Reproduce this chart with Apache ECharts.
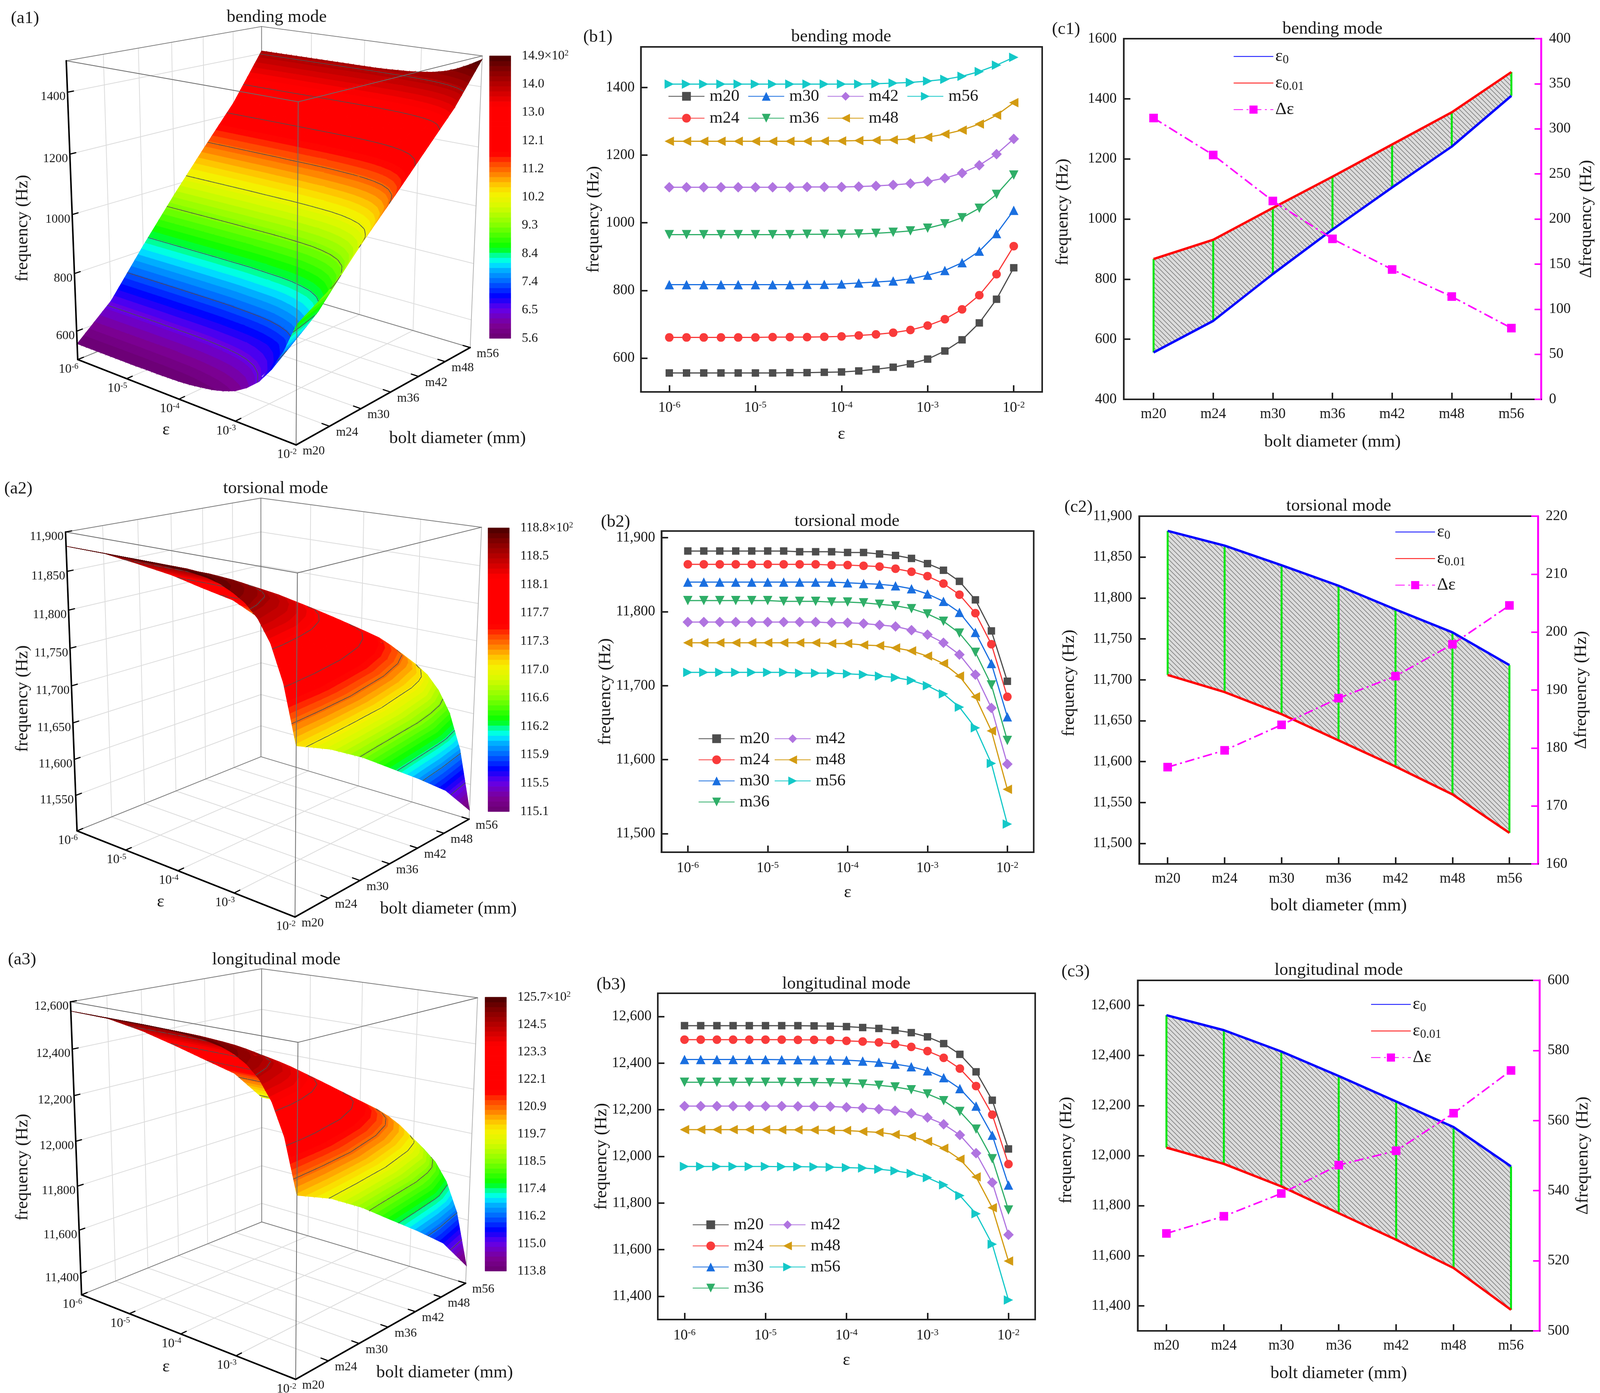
<!DOCTYPE html>
<html><head><meta charset="utf-8">
<style>html,body{margin:0;padding:0;background:#fff;overflow:hidden}#c{height:3565px}</style>
<script src="https://cdn.jsdelivr.net/npm/echarts@6/dist/echarts.min.js"></script>
</head><body><div id="c"></div>
<script>
// ---------- data ----------
const BOLTS=['m20','m24','m30','m36','m42','m48','m56'];
const EPS_EXP=[-6,-5.8,-5.6,-5.4,-5.2,-5,-4.8,-4.6,-4.4,-4.2,-4,-3.8,-3.6,-3.4,-3.2,-3,-2.8,-2.6,-2.4,-2.2,-2];
const EPS_TICKS=[-6,-5,-4,-3,-2];

const bendM20=[556,556,556,556,556,556,556,557,557,558,559,562,567,573,583,597,621,654,704,774,867];
const bendM24=[661,661,661,661,661,661,662,662,662,663,664,667,670,675,683,696,715,744,786,848,931];
const bendM30=[817,817,817,817,817,817,817,817,818,818,819,822,825,828,834,845,859,882,916,968,1037];
const bendM36=[965,965,965,965,965,965,965,965,966,966,966,967,969,972,976,984,997,1015,1043,1084,1141];
const bendM42=[1105,1105,1105,1105,1105,1105,1105,1105,1106,1106,1106,1107,1109,1112,1116,1122,1132,1147,1170,1203,1248];
const bendM48=[1241,1241,1241,1241,1241,1241,1241,1241,1241,1242,1242,1243,1244,1245,1248,1253,1262,1274,1292,1318,1355];
const bendM56=[1410,1410,1410,1410,1410,1410,1410,1410,1410,1410,1410,1410,1411,1413,1415,1419,1424,1433,1447,1466,1489];

const torsM20=[11882,11882,11882,11882,11882,11882,11882,11881,11881,11881,11880,11880,11878,11876,11872,11865,11856,11841,11816,11774,11706];
const torsM24=[11864,11864,11864,11864,11864,11864,11864,11864,11864,11863,11863,11862,11861,11858,11854,11848,11838,11823,11798,11756,11685];
const torsM30=[11840,11840,11840,11840,11840,11840,11840,11840,11840,11840,11839,11838,11837,11835,11831,11824,11814,11799,11772,11730,11658];
const torsM36=[11815,11815,11815,11815,11815,11815,11814,11814,11814,11813,11813,11812,11810,11808,11804,11797,11787,11771,11745,11701,11626];
const torsM42=[11786,11786,11786,11786,11786,11786,11786,11786,11786,11785,11785,11784,11782,11780,11775,11769,11758,11742,11715,11670,11594];
const torsM48=[11758,11758,11758,11758,11758,11758,11758,11758,11758,11757,11757,11755,11754,11751,11747,11740,11730,11713,11685,11639,11560];
const torsM56=[11718,11718,11718,11718,11718,11718,11718,11717,11717,11717,11716,11715,11713,11711,11707,11700,11689,11671,11643,11595,11513];

const longM20=[12561,12561,12561,12561,12561,12561,12561,12561,12560,12559,12557,12553,12549,12541,12531,12513,12484,12438,12363,12241,12032];
const longM24=[12501,12501,12501,12501,12501,12501,12501,12500,12500,12499,12496,12493,12489,12482,12470,12452,12423,12377,12302,12179,11967];
const longM30=[12416,12416,12416,12416,12416,12416,12415,12415,12414,12414,12413,12409,12404,12396,12385,12367,12338,12291,12216,12091,11877];
const longM36=[12318,12318,12318,12318,12318,12318,12318,12317,12317,12316,12314,12310,12305,12298,12286,12268,12239,12193,12117,11990,11770];
const longM42=[12216,12216,12216,12216,12216,12216,12216,12215,12215,12214,12211,12208,12203,12196,12185,12167,12138,12092,12014,11888,11664];
const longM48=[12115,12115,12115,12115,12115,12115,12114,12114,12113,12112,12111,12107,12103,12094,12085,12064,12035,11988,11912,11780,11551];
const longM56=[11957,11957,11957,11957,11957,11957,11956,11956,11955,11954,11952,11950,11945,11938,11927,11909,11878,11832,11754,11623,11384];

const bendE0=[556,661,817,965,1105,1241,1410];
const bendE001=[867,931,1037,1141,1248,1355,1489];
const bendDelta=[312,271,220,178,144,114,79];
const torsE0=[11882,11864,11840,11815,11786,11758,11718];
const torsE001=[11706,11685,11658,11626,11594,11560,11513];
const torsDelta=[176.7,179.6,184,188.6,192.4,197.9,204.6];
const longE0=[12561,12501,12416,12318,12216,12114,11957];
const longE001=[12032,11967,11877,11770,11664,11551,11384];
const longDelta=[527.8,532.7,539.2,547.3,551.4,562.1,574.3];

const bendBar=['14.9','14.0','13.0','12.1','11.2','10.2','9.3','8.4','7.4','6.5','5.6'];
const torsBar=['118.8','118.5','118.1','117.7','117.3','117.0','116.6','116.2','115.9','115.5','115.1'];
const longBar=['125.7','124.5','123.3','122.1','120.9','119.7','118.5','117.4','116.2','115.0','113.8'];

const bendTicks=[600,800,1000,1200,1400];
const torsTicks=[11550,11600,11650,11700,11750,11800,11850,11900];
const longTicks=[11400,11600,11800,12000,12200,12400,12600];
const torsTicks2=[11500,11600,11700,11800,11900];
const torsTicks3=[11500,11550,11600,11650,11700,11750,11800,11850,11900];

const bending=[bendM20,bendM24,bendM30,bendM36,bendM42,bendM48,bendM56];
const torsional=[torsM20,torsM24,torsM30,torsM36,torsM42,torsM48,torsM56];
const longitudinal=[longM20,longM24,longM30,longM36,longM42,longM48,longM56];

// ---------- layout: the window may be narrower than the reference ----------
const SX=Math.min(1,(window.innerWidth||4354)/4354), X=v=>v*SX, FS=v=>Math.round(v*.97);
const CW=Math.round(4354*SX);
document.getElementById('c').style.width=CW+'px';

// ---------- styles ----------
const F='"Liberation Serif","Times New Roman",serif', INK='#1a1a1a';
const SER_COLOR=['#4d4d4d','#f93a3a','#1a6fe0','#2fae68','#b074e0','#d39b12','#14c8c8'];
const SER_SYM=['rect','circle','triangle','triangle','diamond','triangle','triangle'];
const SER_ROT=[0,0,0,180,0,90,-90];
const SER_SIZE=[19,22,24,24,27,24,24];
const fmtPlain=v=>String(v), fmtComma=v=>String(v).replace(/\B(?=(\d{3})+$)/g,',');
const STOPS=[[0,[106,0,112]],[.05,[125,0,150]],[.105,[100,0,235]],[.15,[0,0,255]],[.2,[0,100,255]],[.25,[0,190,255]],[.27,[0,255,255]],[.3,[0,255,130]],[.32,[0,255,0]],[.4,[130,255,0]],[.467,[215,250,0]],[.515,[248,240,0]],[.55,[255,190,0]],[.585,[255,125,0]],[.62,[255,70,0]],[.655,[255,0,0]],[.825,[255,0,0]],[.885,[195,0,0]],[.947,[135,0,0]],[1,[72,0,0]]];
const NB=56;
function cmap(t){
  for(let i=1;i<STOPS.length;i++) if(t<=STOPS[i][0]){
    const a=STOPS[i-1],b=STOPS[i],k=(t-a[0])/(b[0]-a[0]);
    return 'rgb('+a[1].map((c,j)=>Math.round(c+(b[1][j]-c)*k)).join(',')+')';
  }
  return 'rgb(72,0,0)';
}
function fitCamera(c){ // least-squares projective camera from the box corners
  const N=11,A=[...Array(N)].map(()=>Array(N+1).fill(0));
  function add(r,b){for(let i=0;i<N;i++){for(let j=0;j<N;j++)A[i][j]+=r[i]*r[j];A[i][N]+=r[i]*b;}}
  c.forEach(([u,v,w,x,y])=>{
    add([u,v,w,1,0,0,0,0,-x*u,-x*v,-x*w],x);
    add([0,0,0,0,u,v,w,1,-y*u,-y*v,-y*w],y);
  });
  for(let i=0;i<N;i++){
    let p=i;for(let r=i+1;r<N;r++)if(Math.abs(A[r][i])>Math.abs(A[p][i]))p=r;
    [A[i],A[p]]=[A[p],A[i]];
    for(let r=0;r<N;r++)if(r!==i){const k=A[r][i]/A[i][i];for(let j=i;j<=N;j++)A[r][j]-=k*A[i][j];}
  }
  const p=A.map((r,i)=>r[N]/r[i]);
  return (u,v,w)=>{const d=p[8]*u+p[9]*v+p[10]*w+1;return [(p[0]*u+p[1]*v+p[2]*w+p[3])/d,(p[4]*u+p[5]*v+p[6]*w+p[7])/d];};
}
function clipF(poly,val,keepAbove){ // clip [x,y,f] polygon against f>=val or f<=val
  const out=[];
  for(let i=0;i<poly.length;i++){
    const a=poly[i],b=poly[(i+1)%poly.length];
    const ia=keepAbove?a[2]>=val:a[2]<=val, ib=keepAbove?b[2]>=val:b[2]<=val;
    if(ia)out.push(a);
    if(ia!==ib){const k=(val-a[2])/(b[2]-a[2]);out.push([a[0]+(b[0]-a[0])*k,a[1]+(b[1]-a[1])*k,val]);}
  }
  return out;
}
const BOX=[
 {corners:[[0,0,0,212,920],[1,0,0,805,1139],[1,1,0,1280,889],[0,1,0,712,731],[0,0,1,180,155],[1,0,1,812,261],[1,1,1,1312,143],[0,1,1,712,68]],
  z:[500,1500],bar:{x:1332,y0:143,y1:866},fT:[62,584],eT:[452,1100],bT:[1245,1122],fmt:fmtPlain},
 {corners:[[0,0,0,210,2126],[1,0,0,802,2347],[1,1,0,1277,2096],[0,1,0,710,1937],[0,0,1,178,1361],[1,0,1,810,1467],[1,1,1,1310,1349],[0,1,1,710,1275]],
  z:[11500,11900],bar:{x:1328,y0:1351,y1:2077},fT:[62,1788],eT:[437,2308],bT:[1220,2326],fmt:fmtComma},
 {corners:[[0,0,0,222,3314],[1,0,0,805,3530],[1,1,0,1267,3284],[0,1,0,712,3127],[0,0,1,192,2564],[1,0,1,810,2667],[1,1,1,1300,2554],[0,1,1,712,2479]],
  z:[11300,12600],bar:{x:1320,y0:2552,y1:3253},fT:[62,2987],eT:[452,3498],bT:[1210,3513],fmt:fmtComma}
];
const A_SETS=[{table:bending,bar:bendBar,ticks:bendTicks},{table:torsional,bar:torsBar,ticks:torsTicks},{table:longitudinal,bar:longBar,ticks:longTicks}];
const powRich3={b:{fontFamily:F,fontSize:FS(34),fill:INK,color:INK},s:{fontFamily:F,fontSize:FS(22),fill:INK,color:INK,padding:[0,0,14,0]}};

const grid=[],xAxis=[],yAxis=[],series=[],legend=[],title=[];
function addTitle(text,x,y,size){title.push({text,left:X(x),top:y,textAlign:'center',textVerticalAlign:'middle',padding:0,textStyle:{fontFamily:F,fontWeight:'normal',fontSize:FS(size||46),color:INK}});}
function txt(text,x,y,size,align,extra){return Object.assign({type:'text',x,y,silent:true,style:Object.assign({text,fontFamily:F,fontSize:FS(size),fill:INK,align:align||'center',verticalAlign:'middle'},extra&&extra.style)},extra&&extra.el);}
function seg(a,b,stroke,w){return {type:'line',silent:true,shape:{x1:a[0],y1:a[1],x2:b[0],y2:b[1]},style:{stroke,lineWidth:w,lineCap:'round'}};}

// ---------- a panels: surfaces ----------
BOX.forEach((bx,pi)=>{
  const set=A_SETS[pi],P=fitCamera(bx.corners.map(c=>[c[0],c[1],c[2],X(c[3]),c[4]])),table=set.table;
  grid.push({left:0,top:0,width:1000,height:1000,show:false});
  xAxis.push({type:'value',gridIndex:pi,min:0,max:20,show:false});
  yAxis.push({type:'value',gridIndex:pi,min:bx.z[0],max:bx.z[1],show:false});
  const fMax=parseFloat(set.bar[0])*100,fMin=parseFloat(set.bar[set.bar.length-1])*100,fR=fMax-fMin;
  const levels=set.bar.slice(1,-1).map(s=>parseFloat(s)*100);
  const mapper=(api,cs)=>(xi,b,f)=>{const c=api.coord([xi,f]);return P((c[0]-cs.x)/cs.width,b/6,1-(c[1]-cs.y)/cs.height);};
  // back of the box
  series.push({type:'custom',coordinateSystem:'cartesian2d',xAxisIndex:pi,yAxisIndex:pi,z:1,silent:true,clip:false,data:[[0]],
    renderItem(params,api){
      const m=mapper(api,params.coordSys),z0=bx.z[0],z1=bx.z[1],ch=[],G='#dcdcdc',E='#7d7d7d';
      BOLTS.forEach((b,i)=>{ if(i>0&&i<6){ ch.push(seg(m(0,i,z0),m(0,i,z1),G,2)); ch.push(seg(m(0,i,z0),m(20,i,z0),G,2)); } });
      EPS_TICKS.forEach((e,k)=>{ if(k>0&&k<4){ ch.push(seg(m(k*5,6,z0),m(k*5,6,z1),G,2)); ch.push(seg(m(k*5,0,z0),m(k*5,6,z0),G,2)); } });
      set.ticks.forEach(t=>{ if(t<z1){ ch.push(seg(m(0,0,t),m(0,6,t),G,2)); ch.push(seg(m(0,6,t),m(20,6,t),G,2)); } });
      ch.push(seg(m(0,6,z0),m(0,6,z1),E,2),seg(m(0,6,z0),m(0,0,z0),E,2),seg(m(0,6,z0),m(20,6,z0),E,2),seg(m(0,0,z1),m(0,6,z1),E,2),seg(m(0,6,z1),m(20,6,z1),E,2),seg(m(20,6,z0),m(20,6,z1),'#b5b5b5',2));
      return {type:'group',children:ch};
    }});
  // surface: cells far-to-near, every cell filled band by band
  const cells=[];
  for(let b=5;b>=0;b--)for(let e=0;e<20;e++)cells.push([e,b]);
  const SU=2,SV=4;
  series.push({type:'custom',coordinateSystem:'cartesian2d',xAxisIndex:pi,yAxisIndex:pi,z:2,silent:true,clip:false,data:cells,
    renderItem(params,api){
      const m=mapper(api,params.coordSys),e=api.value(0),b=api.value(1),ch=[],lines=[];
      const f00=table[b][e],f10=table[b][e+1],f01=table[b+1][e],f11=table[b+1][e+1];
      const V=(su,sv)=>{const a=su/SU,c=sv/SV,f=(f00*(1-a)+f10*a)*(1-c)+(f01*(1-a)+f11*a)*c,p=m(e+a,b+c,f);return [p[0],p[1],f];};
      const tri=t=>{
        const fs=t.map(p=>p[2]),lo=Math.min(...fs),hi=Math.max(...fs);
        const b0=Math.max(0,Math.floor((lo-fMin)/fR*NB)),b1=Math.min(NB-1,Math.floor((hi-fMin)/fR*NB));
        for(let k=b0;k<=b1;k++){
          let poly=t;
          if(k>0)poly=clipF(poly,fMin+fR*k/NB,true);
          if(k<NB-1&&poly.length)poly=clipF(poly,fMin+fR*(k+1)/NB,false);
          if(poly.length>=3){const col=cmap((k+.5)/NB);ch.push({type:'polygon',silent:true,shape:{points:poly.map(q=>[q[0],q[1]])},style:{fill:col,stroke:col,lineWidth:1.2}});}
        }
        levels.forEach(L=>{ if(L<=lo||L>=hi)return;
          const hit=[];
          for(let i=0;i<3;i++){const p=t[i],q=t[(i+1)%3];
            if((p[2]<L)!==(q[2]<L)){const k=(L-p[2])/(q[2]-p[2]);hit.push([p[0]+(q[0]-p[0])*k,p[1]+(q[1]-p[1])*k]);}}
          if(hit.length===2)lines.push(seg(hit[0],hit[1],'#4f4f4f',1.6));
        });
      };
      for(let sv=SV-1;sv>=0;sv--)for(let su=0;su<SU;su++){
        const a=V(su,sv),c=V(su+1,sv),d=V(su+1,sv+1),g=V(su,sv+1);
        tri([g,d,a]);tri([d,c,a]);
      }
      return {type:'group',children:ch.concat(lines)};
    }});
  // front of the box, axes, labels, colour bar
  series.push({type:'custom',coordinateSystem:'cartesian2d',xAxisIndex:pi,yAxisIndex:pi,z:3,silent:true,clip:false,data:[[0]],
    renderItem(params,api){
      const m=mapper(api,params.coordSys),z0=bx.z[0],z1=bx.z[1],ch=[],E='#6b6b6b';
      ch.push(seg(m(20,0,z0),m(20,0,z1),E,2),seg(m(0,0,z1),m(20,0,z1),E,2),seg(m(20,0,z1),m(20,6,z1),E,2));
      ch.push(seg(m(0,0,z0),m(0,0,z1),'#000',4),seg(m(0,0,z0),m(20,0,z0),'#000',4),seg(m(20,0,z0),m(20,6,z0),'#000',4));
      EPS_TICKS.forEach((v,k)=>{const p=m(k*5,0,z0);ch.push(seg(p,m(k*5,.16,z0),'#000',3));
        ch.push(txt('{b|10}{s|'+v+'}',p[0]-X(25),p[1]+25,34,'center',{style:{rich:powRich3}}));});
      BOLTS.forEach((n,i)=>{const p=m(20,i,z0);ch.push(seg(p,m(19.4,i,z0),'#000',3));ch.push(txt(n,p[0]+X(48),p[1]+16,33));});
      set.ticks.forEach(t=>{const p=m(0,0,t);ch.push(seg(p,m(0,.16,t),'#000',3));ch.push(txt(bx.fmt(t),p[0]-X(5),p[1]+12,33,'right'));});
      ch.push(txt('frequency (Hz)',X(bx.fT[0]),bx.fT[1],46,'center',{el:{rotation:Math.PI/2}}));
      ch.push(txt('ε',X(bx.eT[0]),bx.eT[1],46));
      ch.push(txt('bolt diameter (mm)',X(bx.bT[0]),bx.bT[1],46));
      const B=bx.bar,h=(B.y1-B.y0)/NB;
      for(let i=0;i<NB;i++){const c=cmap((i+.5)/NB);ch.push({type:'rect',silent:true,shape:{x:X(B.x),y:B.y1-(i+1)*h,width:X(58),height:h},style:{fill:c,stroke:c,lineWidth:1}});}
      set.bar.forEach((s,i)=>{const y=B.y0+(B.y1-B.y0)*i/(set.bar.length-1),lx=X(B.x+88);
        if(i===0)ch.push(txt('{a|'+s+'×10}{s|2}',lx,y,34,'left',{style:{rich:{a:{fontFamily:F,fontSize:FS(34),fill:INK,color:INK},s:{fontFamily:F,fontSize:FS(22),fill:INK,color:INK,padding:[0,0,14,0]}}}}));
        else ch.push(txt(s,lx,y,34,'left'));});
      return {type:'group',children:ch};
    }});
});
addTitle('bending mode',753,44);addTitle('(a1)',68,47);
addTitle('torsional mode',750,1250);addTitle('(a2)',50,1251);
addTitle('longitudinal mode',752,2456);addTitle('(a3)',60,2456);

// ---------- b panels ----------
const B_PANELS=[
 {rect:[1744,120,1092,883],y:[500,1520],ticks:bendTicks,fmt:fmtPlain,table:bending,nameGap:[86,104],
  t:['bending mode',2289,94],l:['(b1)',1627,95],
  legend:[[1818,225,['m20','m24'],13],[2035,225,['m30','m36'],13],[2251,225,['m42','m48'],13],[2468,225,['m56'],13]]},
 {rect:[1800,1359,1013,822],y:[11475,11909],ticks:torsTicks2,fmt:fmtComma,table:torsional,nameGap:[81,122],
  t:['torsional mode',2305,1334],l:['(b2)',1675,1336],
  legend:[[1900,1869,['m20','m24','m30','m36'],11],[2107,1869,['m42','m48','m56'],11]]},
 {rect:[1790,2542,1027,835],y:[11300,12700],ticks:longTicks,fmt:fmtComma,table:longitudinal,nameGap:[82,125],
  t:['longitudinal mode',2303,2518],l:['(b3)',1663,2520],
  legend:[[1884,3113,['m20','m24','m30','m36'],11],[2093,3113,['m42','m48','m56'],11]]}
];
B_PANELS.forEach(p=>{
  const i=grid.length;
  grid.push({left:X(p.rect[0]),top:p.rect[1],width:X(p.rect[2]),height:p.rect[3],show:true,borderColor:'#222',borderWidth:4,backgroundColor:'transparent'});
  xAxis.push({type:'value',gridIndex:i,min:-6.33,max:-1.67,name:'ε',nameLocation:'middle',nameGap:p.nameGap[0],nameTextStyle:{fontFamily:F,fontSize:FS(46),color:INK},
    axisLine:{show:true,lineStyle:{color:'#222',width:4}},splitLine:{show:false},
    axisTick:{show:true,inside:true,length:17,lineStyle:{color:'#222',width:4},customValues:EPS_TICKS},
    axisLabel:{margin:22,customValues:EPS_TICKS,formatter:v=>'{b|10}{s|'+v+'}',rich:{b:{fontFamily:F,fontSize:FS(38),color:INK},s:{fontFamily:F,fontSize:FS(25),color:INK,padding:[0,0,14,0]}}}});
  yAxis.push({type:'value',gridIndex:i,min:p.y[0],max:p.y[1],name:'frequency (Hz)',nameLocation:'middle',nameRotate:90,nameGap:X(p.nameGap[1]),nameTextStyle:{fontFamily:F,fontSize:FS(46),color:INK},
    axisLine:{show:true,lineStyle:{color:'#222',width:4}},splitLine:{show:false},
    axisTick:{show:true,inside:true,length:17,lineStyle:{color:'#222',width:4},customValues:p.ticks},
    axisLabel:{margin:16,customValues:p.ticks,formatter:p.fmt,fontFamily:F,fontSize:FS(38),color:INK}});
  BOLTS.forEach((b,k)=>series.push({type:'line',name:b,xAxisIndex:i,yAxisIndex:i,z:5,
    data:EPS_EXP.map((e,j)=>[e,p.table[k][j]]),
    symbol:SER_SYM[k],symbolRotate:SER_ROT[k],symbolSize:SER_SIZE[k],
    lineStyle:{color:SER_COLOR[k],width:3},itemStyle:{color:SER_COLOR[k]},silent:true}));
  addTitle(...p.t);addTitle(...p.l);
  p.legend.forEach(L=>legend.push({left:X(L[0]),top:L[1],orient:'vertical',padding:0,itemGap:L[3],itemWidth:X(98),itemHeight:28,selectedMode:false,data:L[2],
    textStyle:{fontFamily:F,fontSize:FS(44),color:INK,padding:[0,0,0,8]}}));
});

// ---------- c panels ----------
const hatch=document.createElement('canvas');hatch.width=12;hatch.height=12;
(function(){const g=hatch.getContext('2d');g.fillStyle='#dcdcdc';g.fillRect(0,0,12,12);g.strokeStyle='#808080';g.lineWidth=1.6;
 [[-12,-12,12,12],[0,-12,24,12],[-12,0,12,24]].forEach(a=>{g.beginPath();g.moveTo(a[0],a[1]);g.lineTo(a[2],a[3]);g.stroke();});})();
const C_PANELS=[
 {rect:[3058,99,1136,923],y:[400,1600],ticks:[400,600,800,1000,1200,1400,1600],fmt:fmtPlain,r:[0,400],rticks:[0,50,100,150,200,250,300,350,400],
  e0:bendE0,e1:bendE001,d:bendDelta,gap:[87,141,99],pad:[0,0,0,36],t:['bending mode',3626,74],l:['(c1)',2901,75],leg:[3356,122]},
 {rect:[3100,1321,1085,890],y:[11475,11900],ticks:torsTicks3,fmt:fmtComma,r:[160,220],rticks:[160,170,180,190,200,210,220],
  e0:torsE0,e1:torsE001,d:torsDelta,gap:[85,167,94],pad:[0,0,0,36],t:['torsional mode',3643,1295],l:['(c2)',2935,1298],leg:[3796,1339]},
 {rect:[3096,2509,1094,897],y:[11300,12700],ticks:longTicks,fmt:fmtComma,r:[500,600],rticks:[500,520,540,560,580,600],
  e0:longE0,e1:longE001,d:longDelta,gap:[87,170,94],pad:[0,0,0,28],t:['longitudinal mode',3643,2483],l:['(c3)',2927,2487],leg:[3730,2548]}
];
const NAMES=['ε0','ε0.01','Δε'];
C_PANELS.forEach(p=>{
  const i=grid.length;
  grid.push({left:X(p.rect[0]),top:p.rect[1],width:X(p.rect[2]),height:p.rect[3],show:true,borderColor:'#222',borderWidth:4,backgroundColor:'transparent'});
  xAxis.push({type:'category',gridIndex:i,data:BOLTS,name:'bolt diameter (mm)',nameLocation:'middle',nameGap:p.gap[0],nameTextStyle:{fontFamily:F,fontSize:FS(46),color:INK},
    axisLine:{show:true,lineStyle:{color:'#222',width:4}},splitLine:{show:false},
    axisTick:{show:true,inside:true,length:17,alignWithLabel:true,lineStyle:{color:'#222',width:4}},
    axisLabel:{margin:20,fontFamily:F,fontSize:FS(38),color:INK,interval:0}});
  p.yL=yAxis.length;p.i=i;
  yAxis.push({type:'value',gridIndex:i,min:p.y[0],max:p.y[1],name:'frequency (Hz)',nameLocation:'middle',nameRotate:90,nameGap:X(p.gap[1]),nameTextStyle:{fontFamily:F,fontSize:FS(46),color:INK,padding:p.pad},
    axisLine:{show:true,lineStyle:{color:'#222',width:4}},splitLine:{show:false},
    axisTick:{show:true,inside:true,length:17,lineStyle:{color:'#222',width:4},customValues:p.ticks},
    axisLabel:{margin:18,customValues:p.ticks,formatter:p.fmt,fontFamily:F,fontSize:FS(38),color:INK}});
});
C_PANELS.forEach(p=>{
  const i=p.i,yR=yAxis.length;
  yAxis.push({type:'value',gridIndex:i,position:'right',min:p.r[0],max:p.r[1],name:'Δfrequency (Hz)',nameLocation:'middle',nameRotate:90,nameGap:X(p.gap[2]),nameTextStyle:{fontFamily:F,fontSize:FS(46),color:INK},
    axisLine:{show:true,lineStyle:{color:'#ff00ff',width:5}},splitLine:{show:false},
    axisTick:{show:true,inside:true,length:17,lineStyle:{color:'#ff00ff',width:4},customValues:p.rticks},
    axisLabel:{margin:20,customValues:p.rticks,fontFamily:F,fontSize:FS(38),color:INK}});
  series.push({type:'custom',coordinateSystem:'cartesian2d',xAxisIndex:i,yAxisIndex:p.yL,z:3,silent:true,
    data:BOLTS.map((b,k)=>[k,p.e0[k],p.e1[k]]),encode:{x:0,y:[1,2]},
    renderItem(params,api){
      const k=api.value(0),a=api.coord([k,api.value(1)]),b=api.coord([k,api.value(2)]),ch=[];
      if(k<6){const a2=api.coord([k+1,p.e0[k+1]]),b2=api.coord([k+1,p.e1[k+1]]);
        ch.push({type:'polygon',silent:true,z2:1,shape:{points:[a,a2,b2,b]},style:{fill:{image:hatch,repeat:'repeat'}}});}
      ch.push({type:'line',silent:true,z2:2,shape:{x1:a[0],y1:a[1],x2:b[0],y2:b[1]},style:{stroke:'#00e60a',lineWidth:5}});
      return {type:'group',children:ch};
    }});
  series.push({type:'line',name:NAMES[0],xAxisIndex:i,yAxisIndex:p.yL,z:5,data:p.e0,symbol:'none',silent:true,lineStyle:{color:'#0000ff',width:6},itemStyle:{color:'#0000ff'}});
  series.push({type:'line',name:NAMES[1],xAxisIndex:i,yAxisIndex:p.yL,z:5,data:p.e1,symbol:'none',silent:true,lineStyle:{color:'#ff0000',width:6},itemStyle:{color:'#ff0000'}});
  series.push({type:'line',name:NAMES[2],xAxisIndex:i,yAxisIndex:yR,z:6,data:p.d,symbol:'rect',symbolSize:22,silent:true,lineStyle:{color:'#ff00ff',width:4,type:[24,9,5,9]},itemStyle:{color:'#ff00ff'}});
  addTitle(...p.t);addTitle(...p.l);
  legend.push({left:X(p.leg[0]),top:p.leg[1],orient:'vertical',padding:0,itemGap:21,itemWidth:X(108),itemHeight:26,selectedMode:false,
    data:[{name:NAMES[0],itemStyle:{opacity:0}},{name:NAMES[1],itemStyle:{opacity:0}},NAMES[2]],
    formatter:n=>n==='ε0'?'{e|ε}{s|0}':n==='ε0.01'?'{e|ε}{s|0.01}':'{e|Δε}{s| }',
    textStyle:{fontFamily:F,color:INK,fontSize:FS(46),rich:{e:{fontFamily:F,fontSize:FS(46),color:INK},s:{fontFamily:F,fontSize:FS(32),color:INK,padding:[18,0,0,0]}}}});
});

const chart=echarts.init(document.getElementById('c'),null,{renderer:'canvas',width:CW,height:3565});
chart.setOption({animation:false,backgroundColor:'#fff',title,grid,xAxis,yAxis,legend,series});
</script></body></html>
